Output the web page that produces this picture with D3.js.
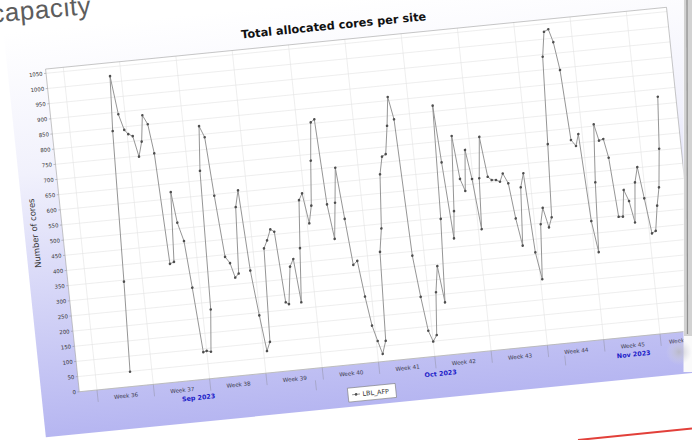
<!DOCTYPE html>
<html>
<head>
<meta charset="utf-8">
<script src="https://cdn.jsdelivr.net/npm/d3@7/dist/d3.min.js"></script>
<style>
  html, body { margin: 0; padding: 0; background: #fff; overflow: hidden; }
  svg { display: block; }
</style>
</head>
<body>
<svg id="slide" width="692" height="440"></svg>
<script>
// ---- data: allocated cores for LBL_AFP, sampled about every 12 hours ----
// sample times in days after Monday 2023-09-04 00:00 UTC
const sampleDays = [
  4.30, 4.71, 5.26, 5.64, 6.17, 6.70, 7.14, 7.66, 8.17, 8.69,
  9.11, 9.66, 10.09, 10.60, 11.12, 11.62, 12.03, 12.62, 13.04, 13.57,
  14.00, 14.52, 15.03, 15.49, 15.95, 16.50, 16.93, 17.47, 18.00, 18.46,
  18.93, 19.42, 19.92, 20.40, 20.93, 21.42, 21.90, 22.37, 22.85, 23.39,
  23.85, 24.35, 24.73, 25.34, 25.84, 26.27, 26.80, 27.30, 27.76, 28.27,
  28.74, 29.25, 29.74, 30.22, 30.69, 31.19, 31.70, 32.18, 32.68, 33.15,
  33.69, 34.18, 34.67, 35.17, 35.62, 36.16, 36.60, 37.07, 37.60, 38.07,
  38.56, 39.09, 39.54, 40.03, 40.53, 41.03, 41.53, 42.00, 42.51, 42.97,
  43.47, 43.95, 44.50, 44.96, 45.33, 45.88, 46.23, 46.91, 47.38, 47.88,
  48.37, 48.86, 49.40, 49.76, 50.30, 50.82, 51.27, 51.80, 52.27, 52.71,
  53.27, 53.73, 54.24, 54.75, 55.25, 55.71, 56.22, 56.73, 57.19, 57.71,
  58.17, 58.63, 59.13, 59.61, 60.17, 60.62, 61.09, 61.54, 62.08, 62.52,
  63.00, 63.51, 63.99, 64.54, 64.98, 65.53, 65.95, 66.42, 66.95, 67.38,
  67.90, 68.36, 68.87, 69.35, 69.81, 70.31, 70.80, 71.30, 71.76, 72.28,
  72.78
];
const coreCounts = [
  49, 345, 840, 1020, 893, 840, 825, 817, 748, 796,
  882, 851, 754, 388, 393, 622, 520, 458, 303, 89,
  92, 88, 226, 682, 828, 790, 596, 393, 371, 322,
  334, 552, 606, 340, 191, 72, 101, 408, 433, 468,
  459, 225, 218, 340, 364, 220, 397, 554, 575, 475,
  532, 679, 804, 813, 531, 416, 534, 648, 478, 325,
  337, 218, 121, 69, 25, 67, 359, 435, 612, 669,
  676, 768, 862, 787, 336, 199, 86, 49, 69, 209,
  294, 173, 447, 819, 631, 379, 468, 714, 571, 530,
  664, 567, 400, 567, 702, 569, 557, 556, 549, 575,
  541, 424, 333, 524, 569, 307, 217, 397, 450, 384,
  416, 656, 943, 1024, 1031, 987, 894, 662, 641, 679,
  391, 287, 516, 706, 651, 655, 592, 396, 395, 482,
  444, 372, 503, 552, 448, 331, 338, 420, 479, 605,
  775
];
const seriesName = "LBL_AFP";

const yTickValues = [0, 50, 100, 150, 200, 250, 300, 350, 400, 450, 500, 550,
                     600, 650, 700, 750, 800, 850, 900, 950, 1000, 1050];
const weekLabels = ["Week 36", "Week 37", "Week 38", "Week 39", "Week 40", "Week 41",
                    "Week 42", "Week 43", "Week 44", "Week 45", "Week 46"];
const weekStarts = ["2023-09-04", "2023-09-11", "2023-09-18", "2023-09-25", "2023-10-02",
                    "2023-10-09", "2023-10-16", "2023-10-23", "2023-10-30", "2023-11-06",
                    "2023-11-13"];
const monthLabels = ["Sep 2023", "Oct 2023", "Nov 2023"];
const monthStarts = ["2023-09-01", "2023-10-01", "2023-11-01"];
const monthEnd = "2023-12-01";
const axisRange = ["2023-09-01T19:12:00Z", "2023-11-18T00:00:00Z"];

// ---- layout ----
const DAY = 864e5;
const baseDay = Date.UTC(2023, 8, 4);
const parse = s => new Date(s.length === 10 ? s + "T00:00:00Z" : s);
const PW = 624, PH = 324.5;                 // plot area (chart-local pixels)
// the slide is seen slightly turned: chart-local -> page
const view = { a: 0.99505, b: -0.09897, c: 0.10393, d: 0.99443, e: 45.58, f: 69.07 };

const svg = d3.select("#slide");
const defs = svg.append("defs");

const bg = defs.append("linearGradient").attr("id", "chartBg")
  .attr("gradientUnits", "userSpaceOnUse").attr("x1", 0).attr("y1", -40).attr("x2", 0).attr("y2", PH + 42);
bg.append("stop").attr("offset", 0).attr("stop-color", "#ffffff");
bg.append("stop").attr("offset", 0.35).attr("stop-color", "#f1f1fc");
bg.append("stop").attr("offset", 1).attr("stop-color", "#b6b6f1");

const shade = defs.append("radialGradient").attr("id", "cornerShade");
shade.append("stop").attr("offset", 0).attr("stop-color", "#b9b9c4").attr("stop-opacity", 0.9);
shade.append("stop").attr("offset", 1).attr("stop-color", "#d8d8e4").attr("stop-opacity", 0);

defs.append("clipPath").attr("id", "plotClip")
  .append("rect").attr("x", 0).attr("y", 0).attr("width", PW).attr("height", PH);

svg.append("rect").attr("width", 692).attr("height", 440).attr("fill", "#fff");

// slide heading, partly off the left edge
svg.append("text")
  .attr("x", -8).attr("y", 22)
  .attr("transform", "rotate(-5, 0, 22)")
  .attr("font-family", "Liberation Sans, Arial, sans-serif")
  .attr("font-size", 26).attr("letter-spacing", 0.6)
  .attr("fill", "#5d5d5d")
  .text("capacity");

const g = svg.append("g")
  .attr("transform", `matrix(${view.a},${view.b},${view.c},${view.d},${view.e},${view.f})`);

// chart background panel
g.append("rect").attr("x", -38).attr("y", -40).attr("width", 690).attr("height", PH + 82)
  .attr("fill", "url(#chartBg)");

const x = d3.scaleUtc().domain(axisRange.map(parse)).range([0, PW]);
const y = d3.scaleLinear().domain([0, 1064]).range([PH, 0]);

// plot background + grid
g.append("rect").attr("x", 0).attr("y", 0).attr("width", PW).attr("height", PH).attr("fill", "#fff");
const grid = g.append("g").attr("stroke", "#e4e4e4").attr("stroke-width", 0.6);
grid.selectAll("line.h").data(yTickValues).join("line")
  .attr("x1", 0).attr("x2", PW).attr("y1", d => y(d)).attr("y2", d => y(d));
grid.selectAll("line.v").data(weekStarts.map(parse)).join("line")
  .attr("x1", d => x(d)).attr("x2", d => x(d)).attr("y1", 0).attr("y2", PH);

// y axis
const yAxis = g.append("g").attr("font-family", "DejaVu Sans, sans-serif");
yAxis.selectAll("line").data(yTickValues).join("line")
  .attr("x1", -2).attr("x2", 0).attr("y1", d => y(d)).attr("y2", d => y(d))
  .attr("stroke", "#888").attr("stroke-width", 0.5);
yAxis.selectAll("text").data(yTickValues).join("text")
  .attr("x", -3.5).attr("y", d => y(d)).attr("dy", "0.35em")
  .attr("text-anchor", "end").attr("font-size", 5.4).attr("fill", "#333")
  .text(d => d);
g.append("text")
  .attr("transform", `translate(-28,${y(532)}) rotate(-90)`)
  .attr("text-anchor", "middle").attr("dy", "0.35em")
  .attr("font-family", "DejaVu Sans, sans-serif").attr("font-size", 8.4).attr("fill", "#333")
  .text("Number of cores");

// x axis: week row and month row
const [d0, d1] = x.domain();
const clampX = t => x(new Date(Math.min(Math.max(+t, +d0), +d1)));
const xAxis = g.append("g").attr("font-family", "DejaVu Sans, sans-serif");
xAxis.selectAll("line.wk").data(weekStarts.map(parse)).join("line")
  .attr("x1", d => x(d)).attr("x2", d => x(d)).attr("y1", PH).attr("y2", PH + 12)
  .attr("stroke", "#9a9ab4").attr("stroke-width", 0.6);
xAxis.selectAll("text.wk").data(weekLabels).join("text")
  .attr("x", (d, i) => {
    const s = parse(weekStarts[i]);
    const e = new Date(+s + 7 * DAY);
    return (clampX(s) + clampX(e)) / 2;
  })
  .attr("y", PH + 8.6).attr("dy", "0.35em").attr("text-anchor", "middle")
  .attr("font-size", 5.6).attr("fill", "#3a3a4a")
  .text(d => d);
xAxis.selectAll("line.mo").data(monthStarts.map(parse).filter(d => d > d0)).join("line")
  .attr("x1", d => x(d)).attr("x2", d => x(d)).attr("y1", PH + 12).attr("y2", PH + 22)
  .attr("stroke", "#9a9ab4").attr("stroke-width", 0.6);
xAxis.selectAll("text.mo").data(monthLabels).join("text")
  .attr("x", (d, i) => {
    const s = parse(monthStarts[i]);
    const e = parse(i + 1 < monthStarts.length ? monthStarts[i + 1] : monthEnd);
    return (clampX(s) + clampX(e)) / 2;
  })
  .attr("y", PH + 17.6).attr("dy", "0.35em").attr("text-anchor", "middle")
  .attr("font-size", 6.4).attr("font-weight", "bold").attr("fill", "#1c1cc8")
  .text(d => d);

// plot outline
g.append("rect").attr("x", 0).attr("y", 0).attr("width", PW).attr("height", PH)
  .attr("fill", "none").attr("stroke", "#a4a4a4").attr("stroke-width", 0.6);

// series
const points = sampleDays.map((d, i) => ({ t: new Date(baseDay + d * DAY), v: coreCounts[i] }));
const plot = g.append("g").attr("clip-path", "url(#plotClip)");
plot.append("path").datum(points)
  .attr("fill", "none").attr("stroke", "#8e8e8e").attr("stroke-width", 0.9)
  .attr("d", d3.line().x(p => x(p.t)).y(p => y(p.v)));
plot.selectAll("circle").data(points).join("circle")
  .attr("cx", p => x(p.t)).attr("cy", p => y(p.v)).attr("r", 1.3)
  .attr("fill", "#4e4e4e");

// title
g.append("text").attr("x", 291).attr("y", -11).attr("text-anchor", "middle")
  .attr("font-family", "DejaVu Sans, sans-serif").attr("font-weight", "bold")
  .attr("font-size", 11.4).attr("fill", "#111")
  .text("Total allocated cores per site");

// legend
const lg = g.append("g").attr("transform", `translate(291,${PH + 30})`)
  .attr("font-family", "DejaVu Sans, sans-serif");
lg.append("rect").attr("x", -24).attr("y", -7).attr("width", 48).attr("height", 14)
  .attr("fill", "#fff").attr("stroke", "#777").attr("stroke-width", 0.6);
lg.append("line").attr("x1", -20).attr("x2", -12).attr("y1", 0).attr("y2", 0)
  .attr("stroke", "#8e8e8e").attr("stroke-width", 0.9);
lg.append("circle").attr("cx", -16).attr("cy", 0).attr("r", 1.3).attr("fill", "#4e4e4e");
lg.append("text").attr("x", -9.5).attr("y", 0).attr("dy", "0.35em")
  .attr("font-size", 6.4).attr("fill", "#333").text(seriesName);

// right edge of the projected slide, with the soft corner shadow
svg.append("rect").attr("x", 683.5).attr("y", 0).attr("width", 9).attr("height", 372).attr("fill", "#fafafa");
svg.append("rect").attr("x", 684).attr("y", 0).attr("width", 8).attr("height", 336).attr("fill", "#d2d2d2");
svg.append("line").attr("x1", 687).attr("x2", 687.5).attr("y1", 0).attr("y2", 334)
  .attr("stroke", "#8f8f8f").attr("stroke-width", 1.2);
svg.append("circle").attr("cx", 679).attr("cy", 352).attr("r", 13).attr("fill", "url(#cornerShade)");

// red rule at the bottom of the slide
svg.append("line").attr("x1", 578).attr("y1", 440).attr("x2", 692).attr("y2", 428.5)
  .attr("stroke", "#e2403a").attr("stroke-width", 2);
</script>
</body>
</html>
